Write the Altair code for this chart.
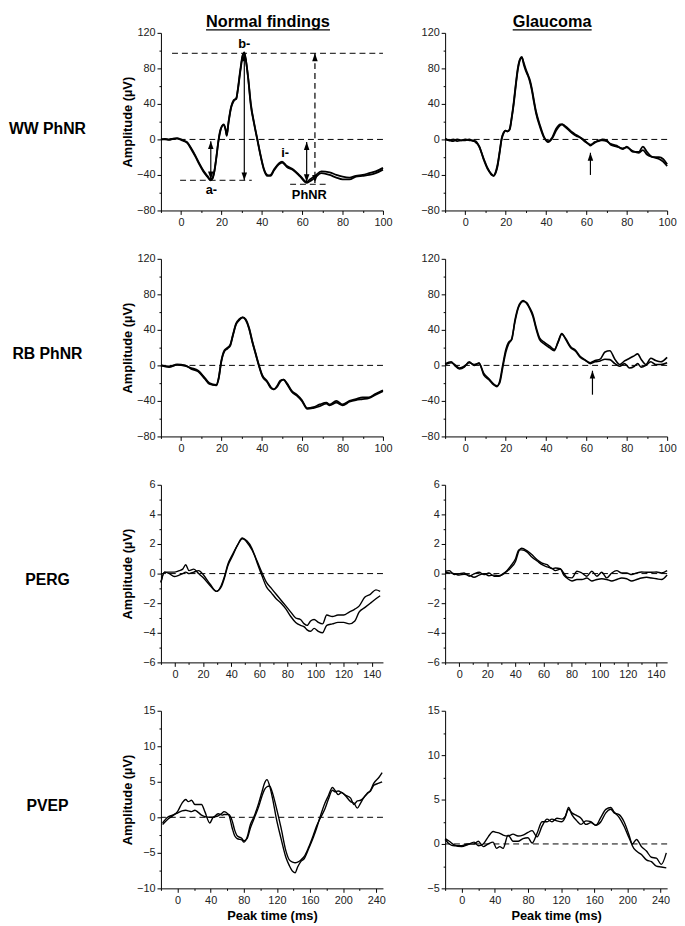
import altair as alt
import pandas as pd

FONT = "Liberation Sans"
W, H = 225, 180

# ---------------- data ----------------
# Row 1 : WW PhNR, normal findings
ww_norm_t = [-10, -8, -6, -4, -2, 0, 1, 3, 5, 7, 9, 11, 13, 14.5, 15.5, 16.5, 17.5, 18.5, 19.5, 21,
             22, 22.6, 23.5, 24.8, 26, 27.4, 28, 29.3, 30.5, 31.3, 32, 33.2, 34.5, 36.2, 37.8, 39.4, 41, 42.7, 44.3, 46,
             48.4, 50, 52.4, 55.7, 59, 62.2, 63.8, 66.3, 69.5, 73.6, 76.9, 80, 83.4, 86.6, 89.9, 93.2, 96.4, 100]
ww_norm_a = [0, 0.5, 0, 1, 1.5, 0, -1, -3, -10, -18, -27, -35, -41, -45, -44, -36, -20, -2, 10, 17,
             12, 4, 19, 36, 43, 47, 54, 76, 94, 98, 91, 69, 39, 17, -1, -19, -34, -41, -40, -34,
             -27, -25, -30, -34, -41, -48, -45, -41, -36, -37, -40, -42, -43, -41, -40, -38, -36, -32]
ww_norm_b = [0, 0, -0.5, 0.5, 1, -0.5, -1.5, -4, -11, -19, -28, -36, -42, -46, -44, -35, -19, -1, 11, 16,
             11, 5, 20, 37, 44, 46, 55, 78, 95, 97, 90, 70, 41, 18, 0, -18, -33, -40, -41, -35,
             -28, -26, -31, -35, -42, -49, -47, -43, -38, -40, -43, -45, -45, -42, -41, -40, -38, -34]

# Row 1 : WW PhNR, glaucoma
ww_glau_t = [-10, -8, -6, -4, -2, 0, 2, 4, 5, 7, 9, 11, 13, 14, 15, 16, 17, 18, 19, 20,
             21, 22, 23, 24, 25, 26, 27, 28, 29, 30, 31, 32, 33, 34, 35, 37, 39, 41, 43, 45,
             47, 48, 49, 51, 53, 55, 57, 59, 61, 62, 64, 66, 68, 70, 72, 75, 78, 80, 83, 86,
             88, 90, 93, 96, 98, 100]
ww_glau_a = [0, -1, -2, 0, -1, 0, -1, -1, -3, -8, -22, -33, -39, -41, -38, -30, -15, 0, 7, 10,
             9, 12, 25, 42, 62, 80, 90, 93, 84, 77, 72, 65, 55, 42, 30, 14, 2, -2, 2, 12,
             17, 17, 16, 12, 8, 5, 2, -2, -5, -7, -3, -2, 0, -1, -6, -8, -10, -9, -13, -15,
             -12, -17, -20, -22, -25, -30]
ww_glau_b = [1, -1, 0, -2, -1, -1, 0, -2, -2, -9, -21, -32, -40, -41, -37, -28, -14, 1, 8, 10,
             9, 11, 24, 40, 60, 78, 89, 92, 86, 79, 73, 67, 57, 44, 32, 16, 3, -3, 1, 10,
             16, 17, 15, 11, 7, 4, 2, -1, -5, -6, -4, -1, -1, -2, -5, -7, -11, -8, -14, -14,
             -8, -14, -20, -20, -22, -28]

# Row 2 : RB PhNR, normal findings
rb_norm_t = [-10, -6, -2, 2, 5, 8.5, 11.7, 14, 17.4, 18.6, 19.9, 21.5, 23, 24.3, 25.6, 27.2, 28.8, 30.5, 32, 33.7,
             35.3, 37, 38.6, 40.2, 42.7, 44.3, 45.9, 47.6, 49.2, 50.8, 52.4, 54.9, 57.3, 59.8, 62.5, 65.5, 68.7, 72,
             73.6, 76.9, 80, 83.4, 86.6, 89.9, 93, 96.4, 100]
rb_norm_a = [0, -2, 1, 0, -4, -7, -15, -21, -22.6, -15, 4, 16, 19, 22, 33, 46, 51, 54, 52, 42,
             27, 13, 0, -11, -18, -24, -27, -24, -18, -16, -20, -29, -33, -39, -48, -47, -44, -42,
             -44, -40, -44, -40, -38, -36, -36, -32, -28]
rb_norm_b = [0, -1, 0.5, -0.5, -3, -6, -14, -20, -22, -14, 5, 17, 20, 23, 34, 47, 52, 54, 51, 41,
             26, 12, -1, -12, -19, -25, -27, -23, -17, -16, -21, -30, -34, -40, -49, -48, -46, -43,
             -45, -42, -45, -41, -39, -38, -37, -33, -29]

# Row 2 : RB PhNR, glaucoma
rb_glau_t = [-10, -7, -5.3, -2.9, -0.5, 1.9, 4.4, 6.8, 9.2, 11.7, 14.1, 15.7, 17, 18.5, 20.1, 21.4, 23, 24.6, 26.3, 28.7,
             30.3, 31.9, 33.5, 35.2, 36.8, 39.2, 41.7, 44.1, 46, 47.8, 49.8, 52.2, 54.6, 57, 59.5, 61.9, 64.3, 66.8,
             69.2, 71.6, 74.1, 76.5, 78.9, 81.4, 83.8, 85.4, 87.1, 89.5, 91.9, 94.3, 96.8, 100]
rb_glau_a = [2, 4, 0, -4, -2, 4, 0, 3, -11, -16, -22, -24, -18, 0, 18, 26, 29, 51, 66, 73,
             70, 64, 55, 40, 29, 24, 20, 16.5, 27, 36, 29, 20, 16, 9, 5.5, 3, 5.5, 7, 15, 16.5,
             7, 1, 5, 8, 11, 13, 7, 1, 8, 5.5, 4, 9]
rb_glau_b = [1, 3, 1, -3, -1, 3, 1, 2, -9, -15, -21, -23, -20, -3, 15, 24, 30, 49, 65, 72,
             71, 65, 57, 42, 31, 26, 22, 18, 26, 35, 30, 21, 17, 10, 6, 2, 4, 5, 7, 6.5,
             2, -1, 2, -3, -1, 2, -2, 0, 4, 1, 1, 3]

# Row 3 : PERG, normal findings
perg_norm_t = [-10, -7.5, -4, -0.5, 3, 5.5, 7.6, 10, 13.4, 16.8, 20.3, 24.9, 29.5, 32.9, 35.2, 37.5, 41, 44.4, 47.9, 51.3,
               54.8, 58.2, 61.7, 65.1, 68.6, 72, 75.5, 79, 82.4, 85.9, 89.3, 92, 94, 96.5, 99, 102, 105, 108, 112, 116,
               120, 124, 128, 131, 135, 139, 143, 146]
perg_norm_a = [-0.6, 0.1, 0.1, 0.1, 0.2, 0.3, 0.6, 0.2, 0.3, 0.0, -0.3, -0.8, -1.2, -0.8, -0.2, 0.6, 1.3, 1.9, 2.4, 2.1,
               1.6, 0.9, 0.1, -0.6, -1.0, -1.4, -1.8, -2.2, -2.6, -3.0, -3.1, -3.4, -3.5, -3.2, -3.1, -3.3, -3.4, -2.8,
               -2.9, -2.8, -2.8, -2.6, -2.4, -2.2, -1.6, -1.4, -1.1, -1.2]
perg_norm_b = [-0.6, 0.1, 0.0, -0.2, -0.1, 0.0, 0.1, 0.0, 0.1, 0.2, -0.1, -0.7, -1.2, -0.9, -0.3, 0.5, 1.2, 1.9, 2.35, 2.2,
               1.7, 0.8, -0.1, -0.9, -1.3, -1.7, -2.0, -2.4, -2.9, -3.3, -3.5, -3.6, -3.8, -3.9, -3.7, -3.9, -4.0, -3.5,
               -3.4, -3.3, -3.3, -3.4, -3.2, -2.6, -2.3, -2.0, -1.7, -1.5]

# Row 3 : PERG, glaucoma
perg_glau_t = [-10, -7, -3.5, 0, 3.5, 7.1, 10.6, 14.2, 17.7, 21.2, 24.8, 28.3, 31.9, 34, 36.6, 40.1, 42.5, 44.4, 48.4, 51.9,
               55.5, 59, 62.6, 66.1, 68.5, 72, 74.4, 76.7, 80.3, 83.8, 87.3, 90.9, 94.4, 98, 101.5, 105, 108.6, 112.1,
               115.7, 119.2, 122.8, 126.3, 129.8, 133.4, 136.9, 140.5, 144, 148]
perg_glau_a = [0.16, 0.2, -0.07, -0.02, 0.04, -0.18, -0.02, 0.09, -0.07, 0.04, -0.18, -0.18, 0.04, 0.15, 0.38, 0.82,
               1.53, 1.71, 1.53, 1.27, 0.93, 0.71, 0.6, 0.33, 0.38, 0.33, 0.04, -0.24, -0.29, 0.16, 0.04, -0.18,
               0.16, -0.18, 0.09, -0.29, 0.04, 0.2, 0.04, 0.04, -0.07, 0.04, 0.11, 0.09, 0.09, 0.11, 0.04, 0.2]
perg_glau_b = [0.1, 0.05, 0.0, -0.1, -0.05, -0.1, -0.25, -0.1, 0.0, -0.15, -0.1, -0.15, 0.0, 0.2, 0.5, 1.0,
               1.6, 1.6, 1.45, 1.1, 0.85, 0.6, 0.45, 0.35, 0.2, 0.3, -0.1, -0.3, -0.5, -0.4, -0.4, -0.3,
               -0.5, -0.4, -0.35, -0.4, -0.5, -0.4, -0.3, -0.35, -0.5, -0.4, -0.3, -0.25, -0.3, -0.35, -0.4, -0.1]

# Row 4 : PVEP, normal findings
pvep_norm_t = [-18, -12, -6, 0, 5.5, 10, 13, 17, 21, 25, 29, 33, 39, 43, 49, 54, 56, 62, 66, 69,
               72, 78, 80, 84, 88, 92, 98, 102, 105, 108, 111, 115, 119, 125, 131, 135, 139, 142, 145, 149,
               153, 158, 164, 168, 172, 178, 182, 187, 190, 194, 198, 203, 209, 213, 217, 221, 225, 229, 233, 237,
               243, 247]
pvep_norm_a = [-1.0, -0.3, 0.2, 0.8, 2.0, 2.5, 2.2, 2.4, 1.8, 1.8, 1.8, 0.8, -0.8, 0.0, 0.2, 0.6, 0.8, 0.3, -1.5, -2.6,
               -3.0, -3.2, -3.5, -2.8, -1.0, 0.0, 2.0, 3.6, 4.8, 5.3, 4.5, 2.5, 0.0, -3.0, -5.7, -6.8, -7.6, -7.8, -7.0, -6.2,
               -5.8, -4.5, -2.8, -1.5, 0.0, 2.0, 3.0, 4.2, 3.8, 3.2, 3.5, 3.0, 2.2, 2.0, 1.3, 2.0, 2.8, 3.3, 3.8, 4.8,
               5.6, 6.3]
pvep_norm_b = [-0.8, 0.0, 0.3, 0.6, 0.9, 1.0, 0.9, 0.8, 1.0, 0.7, 0.3, 0.1, 0.0, 0.0, 0.5, 0.3, 0.4, 0.4, -0.5, -1.8,
               -2.6, -3.0, -3.3, -3.0, -1.5, -0.3, 1.5, 3.0, 3.9, 4.3, 4.4, 3.3, 1.5, -1.5, -4.8, -6.0, -6.3, -6.4, -6.3, -6.0,
               -5.5, -4.3, -2.5, -1.2, -0.2, 1.2, 2.5, 3.8, 3.6, 3.7, 3.5, 3.1, 2.7, 1.8, 2.3, 2.4, 2.8, 3.4, 3.7, 4.5,
               4.8, 5.0]

# Row 4 : PVEP, glaucoma
pvep_glau_t = [-20, -15, -9, 0, 7, 15, 20, 26, 32, 38, 42, 46, 50, 56, 62, 68, 74, 80, 85, 91,
               97, 103, 109, 115, 121, 125, 129, 133, 139, 144, 150, 156, 162, 168, 174, 180, 184, 190, 196, 202,
               206, 211, 217, 223, 229, 235, 241, 247]
pvep_glau_a = [0.6, 0.3, -0.1, -0.3, -0.1, 0.2, -0.2, 0.0, 0.8, 1.4, 1.3, 1.2, 1.0, 0.9, 1.1, 0.9, 1.0, 1.3, 1.5, 0.8,
               2.0, 2.8, 2.5, 2.9, 2.8, 3.1, 3.9, 3.5, 3.2, 2.9, 2.2, 2.4, 2.1, 2.5, 3.5, 3.9, 3.5, 3.3, 2.5, 1.0,
               -0.2, -0.8, -1.2, -1.8, -2.0, -2.5, -2.6, -2.7]
pvep_glau_b = [0.5, 0.0, -0.2, -0.2, 0.0, 0.0, 0.3, -0.3, 0.0, 0.2, -0.5, -0.3, -0.5, 1.0, 0.3, 0.3, 0.6, 0.7, 0.1, 1.2,
               2.5, 2.5, 2.8, 2.6, 2.5, 3.0, 4.1, 3.3, 2.6, 2.2, 2.6, 2.5, 2.1, 3.0, 3.9, 4.1, 3.6, 3.0, 2.0, 0.7,
               0.0, 0.5, -0.3, -0.8, -1.5, -1.6, -2.3, -1.0]

# Annotations of the WW PhNR normal panel
ann_dash_x1 = [-4.5, -0.5, 54]
ann_dash_x2 = [100, 35, 73.5]
ann_dash_y = [97, -46, -50.5]
ann_arrow_x = [14.7, 31.3, 62.2]
ann_arrow_top = [-2, 97, -3]
ann_arrow_bot = [-45, -46, -48]
ann_darrow_x = [66.3]
ann_darrow_top = [97]
ann_darrow_bot = [-49]
ann_text = ["b-", "a-", "i-", "PhNR"]
ann_text_x = [31.3, 15, 51.5, 63.5]
ann_text_y = [107, -57, -15, -63]
# single arrows marking the PhNR in glaucoma
glau_arrow_x = {"ww": 62, "rb": 63}
glau_arrow_tip = {"ww": -15, "rb": -6}
glau_arrow_base = {"ww": -40, "rb": -33}

row_labels = ["WW PhNR", "RB PhNR", "PERG", "PVEP"]
col_titles = ["Normal findings", "Glaucoma"]

UP = "M0,0L-0.7,2L0.7,2Z"
DOWN = "M0,0L-0.7,-2L0.7,-2Z"


def tdf(t, a, b):
    return pd.DataFrame({"t": list(t) + list(t), "v": list(a) + list(b),
                         "trace": ["A"] * len(t) + ["B"] * len(t)})


def tick_values(lo, hi, step):
    import math
    start = math.ceil(lo / step - 1e-9) * step
    vals = []
    v = start
    while v <= hi + 1e-9:
        vals.append(round(v, 4))
        v += step
    return vals


def one():
    return pd.DataFrame({"k": [0]})


def panel(df, xdom, ydom, xmaj, xmin, ymaj, ymin, col, row, sw, extras=()):
    sx = alt.Scale(domain=xdom, nice=False, zero=False)
    sy = alt.Scale(domain=ydom, nice=False, zero=False)
    xtest = f"abs(datum.value % {xmaj}) < 0.001"
    ytest = f"abs(datum.value % {ymaj}) < 0.001"
    xaxis = alt.Axis(values=tick_values(xdom[0], xdom[1], xmin), labelExpr=f"{xtest} ? datum.label : ''",
                     tickSize={"condition": {"test": xtest, "value": 4}, "value": 2},
                     labelFlush=False, labelOverlap=False,
                     title="Peak time (ms)" if row == 3 else None, titlePadding=5,
                     titleFontSize=13, titleFontWeight="bold", titleFont=FONT)
    yaxis = alt.Axis(values=tick_values(ydom[0], ydom[1], ymin), labelExpr=f"{ytest} ? datum.label : ''",
                     tickSize={"condition": {"test": ytest, "value": 4}, "value": 2},
                     labelFlush=False, labelOverlap=False,
                     title="Amplitude (µV)" if col == 0 else None,
                     titleFontSize=13, titleFontWeight="bold", titleFont=FONT,
                     titleX=-34, titleY=H / 2, titleBaseline="middle", titleAlign="center", titleAngle=270)

    def X(f):
        return alt.X(f, type="quantitative", scale=sx, axis=xaxis)

    def Y(f):
        return alt.Y(f, type="quantitative", scale=sy, axis=yaxis)

    layers = []
    layers.append(alt.Chart(df).mark_line(color="black", strokeWidth=sw, interpolate="monotone").encode(
        x=X("t"), y=Y("v"), detail="trace:N"))
    layers.append(alt.Chart(pd.DataFrame({"z": [0]})).mark_rule(color="black", strokeDash=[6, 4], strokeWidth=1)
                  .encode(y=Y("z")))
    for e in extras:
        layers.append(e(X, Y))
    # layout helpers (white, invisible): fix the bounds of every panel
    top = -7
    if col == 0:
        layers.append(alt.Chart(one()).mark_rule(color="white").encode(
            x=alt.value(-154), y=alt.value(top), y2=alt.value(H + 18)))
        layers.append(alt.Chart(one()).mark_rule(color="white").encode(
            x=alt.value(W + 12), y=alt.value(0), y2=alt.value(1)))
        layers.append(alt.Chart(pd.DataFrame({"l": [row_labels[row]]})).mark_text(
            font=FONT, fontSize=16, fontWeight="bold", align="center", baseline="middle", color="black").encode(
            text="l:N", x=alt.value(-115), y=alt.value(H / 2 + 7)))
    else:
        layers.append(alt.Chart(one()).mark_rule(color="white").encode(
            x=alt.value(-35), y=alt.value(top), y2=alt.value(H + 18)))
    if row == 0:
        half = 62.8 if col == 0 else 40
        cx = 108.5
        layers.append(alt.Chart(pd.DataFrame({"l": [col_titles[col]]})).mark_text(
            font=FONT, fontSize=16.5, fontWeight="bold", align="center", baseline="alphabetic", color="black").encode(
            text="l:N", x=alt.value(cx), y=alt.value(-5.5)))
        layers.append(alt.Chart(one()).mark_rule(color="black", strokeWidth=1.3).encode(
            x=alt.value(cx - half), x2=alt.value(cx + half), y=alt.value(-3)))
    return alt.layer(*layers).properties(width=W, height=H)


def ww_norm_extras():
    def hdash(X, Y):
        return alt.Chart(pd.DataFrame({"x1": ann_dash_x1, "x2": ann_dash_x2, "y": ann_dash_y})).mark_rule(
            color="black", strokeDash=[6, 4], strokeWidth=1).encode(x=X("x1"), x2="x2:Q", y=Y("y"))

    def shafts(X, Y):
        return alt.Chart(pd.DataFrame({"x": ann_arrow_x, "y1": ann_arrow_top, "y2": ann_arrow_bot})).mark_rule(
            color="black", strokeWidth=1.2).encode(x=X("x"), y=Y("y1"), y2="y2:Q")

    def dshaft(X, Y):
        return alt.Chart(pd.DataFrame({"x": ann_darrow_x, "y1": ann_darrow_top, "y2": ann_darrow_bot})).mark_rule(
            color="black", strokeWidth=1.2, strokeDash=[6, 4]).encode(x=X("x"), y=Y("y1"), y2="y2:Q")

    def heads_up(X, Y):
        return alt.Chart(pd.DataFrame({"x": ann_arrow_x + ann_darrow_x, "y": ann_arrow_top + ann_darrow_top})).mark_point(
            shape=UP, filled=True, size=64, color="black", opacity=1).encode(x=X("x"), y=Y("y"))

    def heads_down(X, Y):
        return alt.Chart(pd.DataFrame({"x": ann_arrow_x + ann_darrow_x, "y": ann_arrow_bot + ann_darrow_bot})).mark_point(
            shape=DOWN, filled=True, size=64, color="black", opacity=1).encode(x=X("x"), y=Y("y"))

    def texts(X, Y):
        return alt.Chart(pd.DataFrame({"x": ann_text_x, "y": ann_text_y, "l": ann_text})).mark_text(
            font=FONT, fontSize=13, fontWeight="bold", color="black").encode(x=X("x"), y=Y("y"), text="l:N")

    return [hdash, shafts, dshaft, heads_up, heads_down, texts]


def single_arrow(key):
    def shaft(X, Y):
        return alt.Chart(pd.DataFrame({"x": [glau_arrow_x[key]], "y1": [glau_arrow_base[key]],
                                       "y2": [glau_arrow_tip[key]]})).mark_rule(color="black", strokeWidth=1.2).encode(
            x=X("x"), y=Y("y1"), y2="y2:Q")

    def head(X, Y):
        return alt.Chart(pd.DataFrame({"x": [glau_arrow_x[key]], "y": [glau_arrow_tip[key]]})).mark_point(
            shape=UP, filled=True, size=64, color="black", opacity=1).encode(x=X("x"), y=Y("y"))
    return [shaft, head]


rows = []
rows.append(alt.hconcat(
    panel(tdf(ww_norm_t, ww_norm_a, ww_norm_b), [-10, 100], [-80, 120], 20, 10, 40, 20, 0, 0, 1.8, ww_norm_extras()),
    panel(tdf(ww_glau_t, ww_glau_a, ww_glau_b), [-10, 100], [-80, 120], 20, 10, 40, 20, 1, 0, 1.8, single_arrow("ww")),
    spacing=14))
rows.append(alt.hconcat(
    panel(tdf(rb_norm_t, rb_norm_a, rb_norm_b), [-10, 100], [-80, 120], 20, 10, 40, 20, 0, 1, 1.8),
    panel(tdf(rb_glau_t, rb_glau_a, rb_glau_b), [-10, 100], [-80, 120], 20, 10, 40, 20, 1, 1, 1.6, single_arrow("rb")),
    spacing=14))
rows.append(alt.hconcat(
    panel(tdf(perg_norm_t, perg_norm_a, perg_norm_b), [-10, 148], [-6, 6], 20, 10, 2, 1, 0, 2, 1.4),
    panel(tdf(perg_glau_t, perg_glau_a, perg_glau_b), [-10, 148], [-6, 6], 20, 10, 2, 1, 1, 2, 1.4),
    spacing=14))
rows.append(alt.hconcat(
    panel(tdf(pvep_norm_t, pvep_norm_a, pvep_norm_b), [-20, 248], [-10, 15], 40, 20, 5, 2.5, 0, 3, 1.4),
    panel(tdf(pvep_glau_t, pvep_glau_a, pvep_glau_b), [-20, 248], [-5, 15], 40, 20, 5, 2.5, 1, 3, 1.4),
    spacing=14))

chart = alt.vconcat(*rows, spacing=22).properties(padding=0, background="white").configure_view(
    stroke=None).configure_axis(
    domainColor="black", domainWidth=1, tickColor="black", tickWidth=1, grid=False,
    labelFont=FONT, labelFontSize=11, labelColor="#222", labelPadding=2,
    titleFont=FONT, titleFontSize=13, titleFontWeight="bold", titleColor="black")

chart.save("out.html", embed_options={"renderer": "svg", "actions": False})
